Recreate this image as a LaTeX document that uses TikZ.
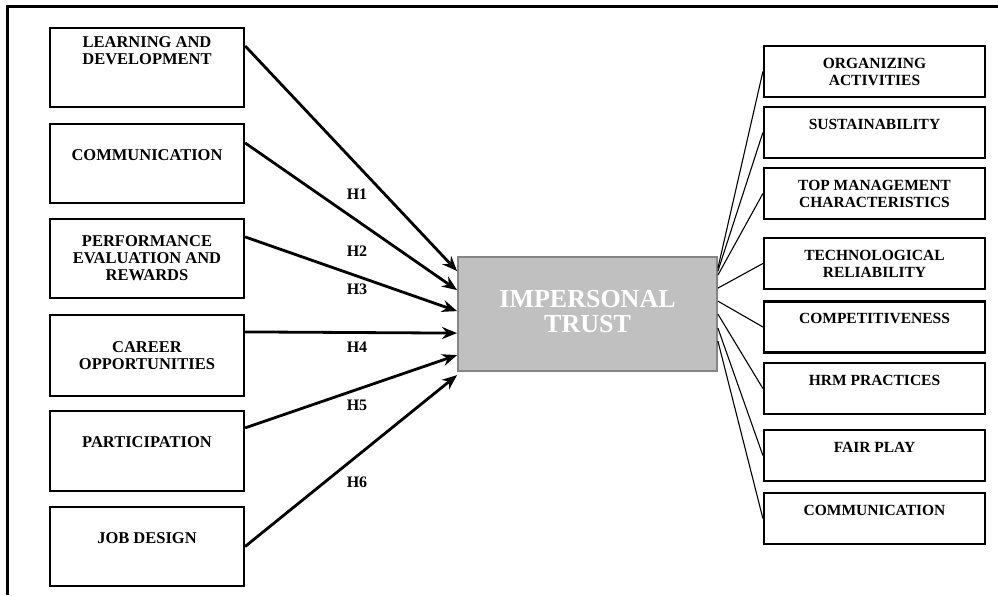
\documentclass[tikz,border=0pt]{standalone}
\usepackage{fontspec}
\setmainfont{Liberation Serif}
\usepackage{xcolor}
\usetikzlibrary{positioning,arrows.meta}

\definecolor{coregray}{HTML}{C0C0C0}
\definecolor{coreedge}{HTML}{858585}

\begin{document}
\begin{tikzpicture}[x=1pt,y=-1pt,
    lbox/.style={draw,line width=2.2pt,minimum width=194pt,minimum height=79pt,inner sep=0pt,align=center,font=\bfseries\fontsize{16.5}{17}\selectfont},
    rbox/.style={draw,line width=2.2pt,minimum width=221pt,minimum height=51pt,inner sep=0pt,align=center,font=\bfseries\fontsize{15.5}{17}\selectfont},
    hyp/.style={-{Stealth[length=15pt,width=12pt]},line width=2.8pt},
    hlab/.style={font=\bfseries\fontsize{16}{17}\selectfont},
    link/.style={line width=1.1pt}]
    \useasboundingbox (0,0) rectangle (998,595);

    % Frame
    \draw[line width=3pt] (7,595) -- (7,6) -- (998,6);

    % Antecedents
    \node[lbox] (learn) at (147,67.5) {LEARNING AND\\DEVELOPMENT\\~\\~};
    \node[lbox] (comm) at (147,163.5) {COMMUNICATION\\~};
    \node[lbox] (perf) at (147,258.5) {PERFORMANCE\\EVALUATION AND\\REWARDS};
    \node[lbox,minimum height=81pt] (career) at (147,355.5) {CAREER\\OPPORTUNITIES};
    \node[lbox,minimum height=80pt] (partic) at (147,451) {PARTICIPATION\\~};
    \node[lbox] (job) at (147,546.5) {JOB DESIGN\\~};

    % Core construct
    \node[draw=coreedge,fill=coregray,line width=1.8pt,minimum width=259pt,minimum height=114pt,inner sep=0pt,align=center,text=white,font=\bfseries\fontsize{26}{25}\selectfont] (core) at (587.5,314) {~\\[-12pt]IMPERSONAL\\TRUST};

    % Dimensions
    \node[rbox] (org) at (874.5,71.5) {ORGANIZING\\ACTIVITIES};
    \node[rbox] (sust) at (874.5,132.5) {SUSTAINABILITY\\~};
    \node[rbox] (topm) at (874.5,193.5) {TOP MANAGEMENT\\CHARACTERISTICS};
    \node[rbox] (tech) at (874.5,263.5) {TECHNOLOGICAL\\RELIABILITY};
    \node[rbox] (compet) at (874.5,327) {COMPETITIVENESS\\~};
    \node[rbox] (hrm) at (874.5,388.5) {HRM PRACTICES\\~};
    \node[rbox] (fair) at (874.5,455.5) {FAIR PLAY\\~};
    \node[rbox] (rcomm) at (874.5,518.5) {COMMUNICATION\\~};

    % Hypotheses
    \draw[hyp] ([yshift=-19pt]learn.north east) -- ([yshift=-15pt]core.north west);
    \draw[hyp] ([yshift=-20pt]comm.north east) -- ([yshift=-34pt]core.north west);
    \draw[hyp] ([yshift=-19pt]perf.north east) -- ([yshift=-55pt]core.north west);
    \draw[hyp] ([yshift=-18pt]career.north east) -- ([yshift=-77pt]core.north west);
    \draw[hyp] ([yshift=-18pt]partic.north east) -- ([yshift=-99pt]core.north west);
    \draw[hyp] (job.east) -- ([yshift=-119pt]core.north west);

    \node[hlab] (h1) at (357,194) {H1};
    \node[hlab] (h2) at (357,251) {H2};
    \node[hlab] (h3) at (357,289) {H3};
    \node[hlab] (h4) at (357,347) {H4};
    \node[hlab] (h5) at (357,405) {H5};
    \node[hlab] (h6) at (357,482) {H6};

    % Links to dimensions
    \draw[link] ([yshift=-12pt]core.north east) -- (org.west);
    \draw[link] ([yshift=-15pt]core.north east) -- (sust.west);
    \draw[link] ([yshift=-19pt]core.north east) -- (topm.west);
    \draw[link] ([yshift=-32pt]core.north east) -- (tech.west);
    \draw[link] ([yshift=-45pt]core.north east) -- (compet.west);
    \draw[link] ([yshift=-58pt]core.north east) -- (hrm.west);
    \draw[link] ([yshift=-72pt]core.north east) -- (fair.west);
    \draw[link] ([yshift=-85pt]core.north east) -- (rcomm.west);
\end{tikzpicture}
\end{document}
